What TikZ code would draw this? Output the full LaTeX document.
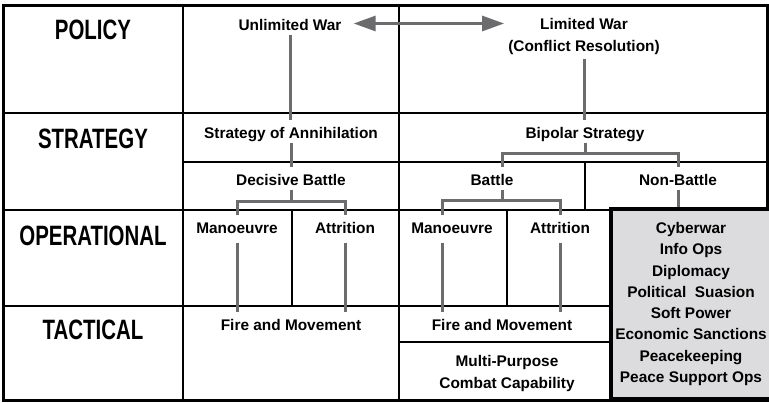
\documentclass[tikz,border=0pt]{standalone}
\usepackage{fontspec}
\setmainfont{Liberation Sans}
\newfontfamily\headfont[FakeStretch=0.73]{Liberation Sans}
\usetikzlibrary{arrows.meta}
\definecolor{linkgrey}{RGB}{108,108,110}
\definecolor{opsgrey}{RGB}{220,220,222}

\begin{document}
\begin{tikzpicture}[x=1pt, y=-1pt,
    level/.style={font=\headfont\bfseries\fontsize{28}{30}\selectfont, anchor=base},
    cell/.style={font=\bfseries\fontsize{15.4}{21.3}\selectfont, anchor=base,
                 text height=16pt, text depth=3pt, inner xsep=4pt, inner ysep=1.5pt},
    cellmulti/.style={font=\bfseries\fontsize{15.4}{21.3}\selectfont, align=center, inner sep=4pt},
    link/.style={draw=linkgrey, line width=3pt},
    biarrow/.style={arrows={Triangle[length=22pt,width=15pt]-Triangle[length=22pt,width=15pt]}},
    grid/.style={line width=1.6pt},
    frame/.style={line width=3pt}]
        \useasboundingbox (0,0) rectangle (769,402);
        % table
        \draw [grid] (183,5) -- (183,400);
        \draw [grid] (399,5) -- (399,400);
        \draw [grid] (3,113) -- (767,113);
        \draw [grid] (183,162) -- (767,162);
        \draw [grid] (3,210) -- (767,210);
        \draw [grid] (3,306) -- (616,306);
        \draw [grid] (399,342) -- (616,342);
        \draw [grid] (292,210) -- (292,306);
        \draw [grid] (507,210) -- (507,306);
        \draw [grid] (585,162) -- (585,210);
        \draw [frame] (3,5) rectangle (767,400);
        % levels
        \node [level] (policy) at (93,39) {POLICY};
        \node [level] (strategy) at (93,148) {STRATEGY};
        \node [level] (operational) at (93,245) {OPERATIONAL};
        \node [level] (tactical) at (93,339) {TACTICAL};
        % unlimited war
        \node [cell] (uw) at (290,30) {Unlimited War};
        \node [cell] (soa) at (291,138) {Strategy of Annihilation};
        \node [cell] (db) at (291,185) {Decisive Battle};
        \node [cell] (man) at (237,233) {Manoeuvre};
        \node [cell] (att) at (345,233) {Attrition};
        \node [cell] (fm) at (291,330) {Fire and Movement};
        % limited war
        \node [cellmulti] (lw) at (584,36.6) {Limited War\\(Conflict Resolution)};
        \node [cell] (bps) at (585,138) {Bipolar Strategy};
        \node [cell] (battle) at (492,185) {Battle};
        \node [cell] (nb) at (678,185) {Non-Battle};
        \node [cell] (man2) at (452,233) {Manoeuvre};
        \node [cell] (att2) at (560,233) {Attrition};
        \node [cell] (fm2) at (502,330) {Fire and Movement};
        \node [cellmulti] (mpc) at (507,373.6) {Multi-Purpose\\Combat Capability};
        \node [cellmulti, draw, line width=4pt, fill=opsgrey, minimum width=151pt, minimum height=190pt] (ops) at (691,304)
            {Cyberwar\\Info Ops\\Diplomacy\\Political~~Suasion\\Soft Power\\Economic Sanctions\\Peacekeeping\\Peace Support Ops};
        % links
        \coordinate (jl) at (291,201);
        \coordinate (jb) at (585,153);
        \coordinate (jr) at (502,200);
        \draw [link, biarrow, shorten <=8pt] (uw.east) -- (uw.east -| lw.west);
        \draw [link] (uw.south) -- (uw.south |- soa.north);
        \draw [link] (soa.south) -- (soa.south |- db.north);
        \draw [link] (db.south) -- (db.south |- jl);
        \draw [link] (man.north) |- (jl) -| (att.north);
        \draw [link, shorten <=5pt] (man.south) -- (man.south |- fm.north);
        \draw [link, shorten <=5pt] (att.south) -- (att.south |- fm.north);
        \draw [link] (lw.south) -- (lw.south |- bps.north);
        \draw [link] (bps.south) -- (jb);
        \draw [link] (fm2 |- battle.north) |- (jb) -| (nb.north);
        \draw [link] (fm2 |- battle.south) -- (jr);
        \draw [link] ([xshift=-10pt]man2.north) |- (jr) -| (att2.north);
        \draw [link, shorten <=5pt] ([xshift=-10pt]man2.south) -- ([xshift=-10pt]man2.south |- fm2.north);
        \draw [link, shorten <=5pt] (att2.south) -- (att2.south |- fm2.north);
        \draw [link] (nb.south) -- (nb.south |- ops.north);
        \end{tikzpicture}
\end{document}
